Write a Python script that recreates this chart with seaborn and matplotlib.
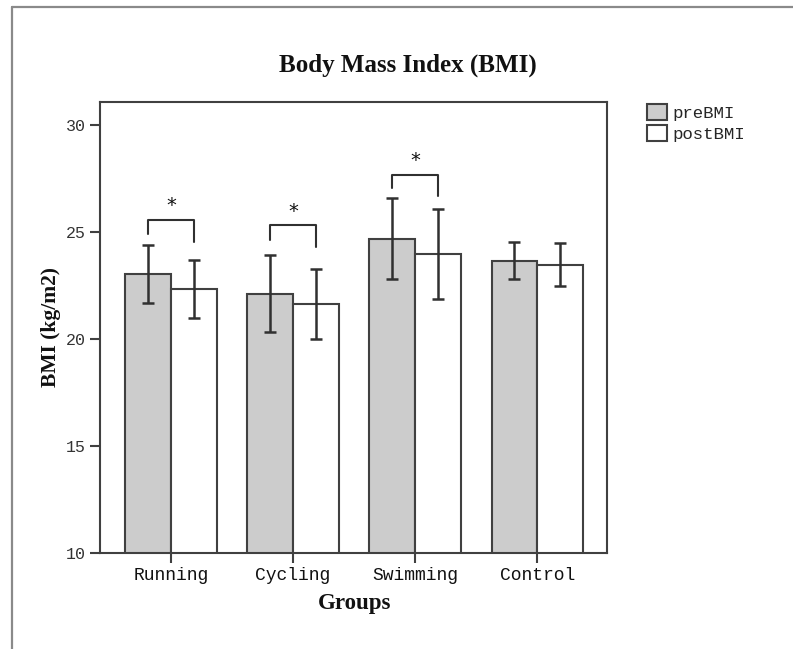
import matplotlib
matplotlib.use("Agg")
import matplotlib.pyplot as plt
import seaborn as sns
import pandas as pd
from matplotlib.patches import Patch
from matplotlib.lines import Line2D
from matplotlib.container import BarContainer

# ---- data ----
groups = ["Running", "Cycling", "Swimming", "Control"]
measures = ["preBMI", "postBMI"]
pre_mean = [23.05, 22.12, 24.69, 23.66]
pre_low = [21.68, 20.33, 22.80, 22.80]
pre_high = [24.39, 23.91, 26.59, 24.53]
post_mean = [22.34, 21.62, 23.99, 23.47]
post_low = [20.97, 19.99, 21.88, 22.48]
post_high = [23.68, 23.27, 26.09, 24.49]
sig_groups = ["Running", "Cycling", "Swimming"]
bracket_top = [25.56, 25.31, 27.66]
bracket_left_end = [24.90, 24.60, 27.06]
bracket_right_end = [24.55, 24.28, 26.70]
y_ticks = [10, 15, 20, 25, 30]

df = pd.DataFrame({
    "Groups": groups * 2,
    "Measure": ["preBMI"] * 4 + ["postBMI"] * 4,
    "BMI": pre_mean + post_mean,
})

sns.set_style("white")
plt.rcParams["font.family"] = ["DejaVu Sans"]

EDGE = "#404040"
fig = plt.figure(figsize=(7.93, 6.49), dpi=100)
ax = fig.add_axes([100 / 793, 1 - 553 / 649, 507 / 793, 451 / 649])

sns.barplot(data=df, x="Groups", y="BMI", hue="Measure", order=groups,
            hue_order=measures, palette={"preBMI": "#cccccc", "postBMI": "white"},
            edgecolor=EDGE, linewidth=1.5, width=0.75, errorbar=None,
            legend=False, ax=ax)

bar_conts = [c for c in ax.containers if isinstance(c, BarContainer)]

# error bars at bar centres
lows = [pre_low, post_low]
highs = [pre_high, post_high]
means = [pre_mean, post_mean]
centers = []
for k, cont in enumerate(bar_conts):
    xs = [b.get_x() + b.get_width() / 2 for b in cont.patches]
    centers.append(xs)
    m = means[k]
    yerr = [[m[i] - lows[k][i] for i in range(4)], [highs[k][i] - m[i] for i in range(4)]]
    ax.errorbar(xs, m, yerr=yerr, fmt="none", ecolor="#303030", elinewidth=1.8,
                capsize=4.5, capthick=1.8, zorder=5)

# significance brackets
for j, g in enumerate(sig_groups):
    i = groups.index(g)
    xl, xr = centers[0][i], centers[1][i]
    ax.plot([xl, xl, xr, xr],
            [bracket_left_end[j], bracket_top[j], bracket_top[j], bracket_right_end[j]],
            color="#303030", lw=1.5, zorder=5)
    ax.text((xl + xr) / 2, bracket_top[j] + 0.22, "*", ha="center", va="bottom",
            fontsize=14, color="#111111", family=["DejaVu Sans"])

ax.set_ylim(10, 31.07)
ax.set_xlim(-0.58, 3.57)
ax.set_yticks(y_ticks)
ax.set_yticklabels([str(t) for t in y_ticks], family=["Liberation Mono"], fontsize=12,
                   color="#333333")
ax.set_xticks([(centers[0][i] + centers[1][i]) / 2 for i in range(4)])
ax.set_xticklabels(groups, family=["Liberation Mono"], fontsize=13, color="#111111")
ax.tick_params(axis="both", direction="out", length=7, width=1.5, color=EDGE,
               bottom=True, left=True, pad=3)
ax.set_xlabel("")
ax.set_ylabel("")
for s in ax.spines.values():
    s.set_visible(True)
    s.set_color(EDGE)
    s.set_linewidth(1.5)

fig.text(408 / 793, 1 - 65 / 649, "Body Mass Index (BMI)", ha="center", va="center",
         fontsize=18, fontweight="bold", family=["Liberation Serif"], color="#111111")
fig.text(355 / 793, 1 - 603 / 649, "Groups", ha="center", va="center",
         fontsize=16.5, fontweight="bold", family=["Liberation Serif"], color="#111111")
fig.text(51 / 793, 1 - 327 / 649, "BMI (kg/m2)", ha="center", va="center", rotation=90,
         fontsize=15.5, fontweight="bold", family=["Liberation Serif"], color="#111111")

handles = [Patch(facecolor="#cccccc", edgecolor=EDGE, linewidth=1.5, label="preBMI"),
           Patch(facecolor="white", edgecolor=EDGE, linewidth=1.5, label="postBMI")]
fig.legend(handles=handles, loc="upper left", bbox_to_anchor=(647 / 793, 1 - 104 / 649),
           frameon=False, prop={"family": "Liberation Mono", "size": 12.5},
           handlelength=1.15, handleheight=1.0, handletextpad=0.3, labelspacing=0.27,
           borderpad=0, borderaxespad=0)

# outer frame (left and top edges)
fig.add_artist(Line2D([12 / 793, 12 / 793], [0, 1 - 7 / 649], transform=fig.transFigure,
                      color="#8a8a8a", lw=1.6))
fig.add_artist(Line2D([12 / 793, 1], [1 - 7 / 649, 1 - 7 / 649], transform=fig.transFigure,
                      color="#8a8a8a", lw=1.6))

fig.savefig("out.png", dpi=100)
